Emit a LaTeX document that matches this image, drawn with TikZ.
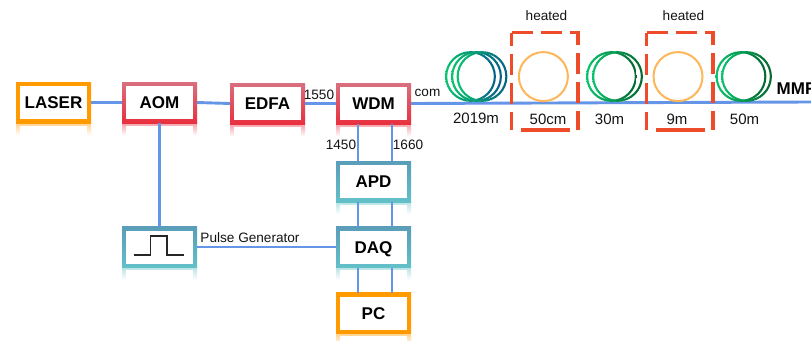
\documentclass[tikz,border=0pt]{standalone}
\usepackage{fontspec}
\setmainfont{Liberation Sans}
\definecolor{linkc}{HTML}{6495E6}
\definecolor{redtop}{HTML}{D9707F}
\definecolor{redbot}{HTML}{E8303F}
\definecolor{teatop}{HTML}{5A9DB8}
\definecolor{teabot}{HTML}{62C0C8}
\definecolor{orgc}{HTML}{FF9B00}
\definecolor{dashc}{HTML}{EE4B2B}
\definecolor{ringc}{HTML}{FDB65A}
\definecolor{grnc}{HTML}{08C46C}
\definecolor{tealc}{HTML}{075E88}
\definecolor{dgrnc}{HTML}{066530}
\tikzset{
  x=1pt,y=-1pt,
  frame/.style={minimum width=75pt,minimum height=41pt,inner sep=0pt,outer sep=0pt},
  face/.style={minimum width=67pt,minimum height=33pt,inner sep=0pt,outer sep=0pt,fill=white,
    text height=12.2pt,text depth=0pt,
    font=\fontsize{17}{20}\selectfont\bfseries,text=black},
  small/.style={inner sep=0pt,outer sep=0pt,font=\fontsize{13.6}{16}\selectfont,text=black!92},
  mid/.style={inner sep=0pt,outer sep=0pt,font=\fontsize{15}{18}\selectfont,text=black!92},
  link/.style={draw=linkc,line width=2.9pt},
  heat/.style={draw=dashc,line width=3.1pt},
  ring/.style={draw=ringc,line width=2pt},
  pulse/.style={draw=black!85,line width=1.2pt},
}
% name, cx, cy, text, top colour, bottom colour
\newcommand{\unitbox}[6]{%
  \shade[top color=#6!45,bottom color=white] (#2-37.5,#3+20.5) rectangle (#2+37.5,#3+33);
  \fill[white] (#2-33.5,#3+23) rectangle (#2+33.5,#3+33.5);
  \node[frame,top color=#5,bottom color=#6] (#1) at (#2,#3) {};
  \node[face] (#1-t) at (#2,#3) {#4};
}
% centre x, left colour, right colour
\newcommand{\coil}[3]{%
  \shade[left color=#2,right color=#3,even odd rule] (#1,76.5) circle (25.4pt) (#1,76.5) circle (23.3pt);
}
% left edge, right edge, left end and right end of the bottom dash
\newcommand{\heatbox}[4]{%
  \draw[heat,dash pattern=on 21pt off 8pt] (#1,32.5) -- (#2,32.5) -- (#2,130);
  \draw[heat,dash pattern=on 13pt off 8pt on 21pt off 8pt on 21pt off 8pt on 21pt off 8pt] (#1,32.5) -- (#1,130);
  \draw[heat] (#3,130) -- (#4,130);
}
\begin{document}
\begin{tikzpicture}
\useasboundingbox (0,0) rectangle (811,340);
\clip (0,0) rectangle (811,340);
\fill[white] (0,0) rectangle (811,340);
\coordinate (xl) at (358,0);
\coordinate (xr) at (392,0);
\coordinate (edge) at (811,102);
\unitbox{laser}{53.5}{102.5}{LASER}{orgc}{orgc}
\unitbox{aom}{159.5}{102.5}{AOM}{redtop}{redbot}
\unitbox{edfa}{267.5}{103.5}{EDFA}{redtop}{redbot}
\unitbox{wdm}{373.5}{103.5}{WDM}{redtop}{redbot}
\unitbox{apd}{373.5}{181.5}{APD}{teatop}{teabot}
\unitbox{daq}{373.5}{247}{DAQ}{teatop}{teabot}
\unitbox{pc}{373.5}{313}{PC}{orgc}{orgc}
\unitbox{gen}{159.5}{247}{}{teatop}{teabot}
% connectors
\draw[link] (laser.east) -- (aom.west);
\draw[link] (aom.east) -- (edfa.west);
\draw[link] (edfa.east) -- (wdm.west);
\draw[link] (wdm.east) -- (edge);
\draw[link] (aom.south) -- (gen.north);
\draw[link] (gen.east) -- (daq.west);
\draw[link] (wdm.south -| xl) -- (apd.north -| xl);
\draw[link] (wdm.south -| xr) -- (apd.north -| xr);
\draw[link] (apd.south -| xl) -- (daq.north -| xl);
\draw[link] (apd.south -| xr) -- (daq.north -| xr);
\draw[link] (daq.south -| xl) -- (pc.north -| xl);
\draw[link] (daq.south -| xr) -- (pc.north -| xr);
% pulse symbol
\draw[pulse] (133.5,255) -- (150.5,255) -- (150.5,236) -- (167,236) -- (167,255) -- (184,255);
% coils
\coil{470.5}{grnc}{tealc}
\coil{476.5}{grnc}{tealc}
\coil{482}{grnc}{tealc}
\coil{611.5}{grnc}{dgrnc}
\coil{617.5}{grnc}{dgrnc}
\coil{741}{grnc}{dgrnc}
\coil{746.5}{grnc}{dgrnc}
\draw[ring] (543.4,76.6) circle (24.5pt);
\draw[ring] (678,76.6) circle (24.5pt);
% heated enclosures
\heatbox{511.7}{578}{521}{570}
\heatbox{646.7}{713}{656}{705}
% labels
\node[small] (l1550) at (319,95) {1550};
\node[small] (lcom) at (427.5,92.5) {com};
\node[small] (l1450) at (341,144.5) {1450};
\node[small] (l1660) at (408,144.5) {1660};
\node[small] (lpg) at (250,237.5) {Pulse Generator};
\node[small] (lh1) at (546.5,16) {heated};
\node[small] (lh2) at (683.5,16) {heated};
\node[mid] (l2019) at (476,118.5) {2019m};
\node[mid] (l50cm) at (548,119) {50cm};
\node[mid] (l30m) at (609.5,119) {30m};
\node[mid] (l9m) at (677,119) {9m};
\node[mid] (l50m) at (744.5,119) {50m};
\node[anchor=west,inner sep=0pt,font=\fontsize{17}{20}\selectfont\bfseries,text=black] (lmmf) at (776.5,89) {MMF};
\end{tikzpicture}
\end{document}
